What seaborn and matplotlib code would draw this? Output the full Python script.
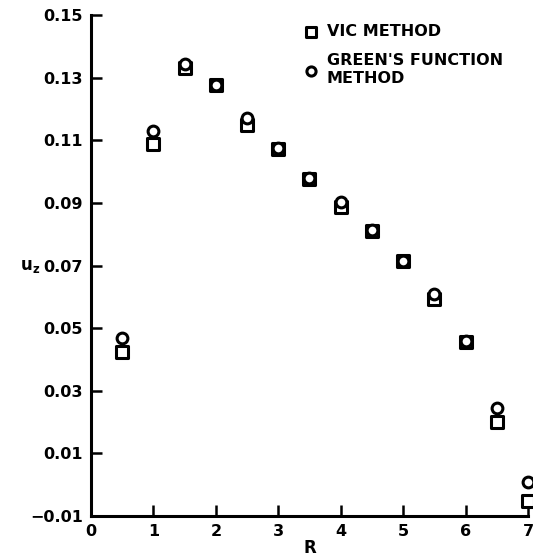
import matplotlib
matplotlib.use("Agg")
import matplotlib.pyplot as plt
import seaborn as sns
import pandas as pd

R = [0.5, 1.0, 1.5, 2.0, 2.5, 3.0, 3.5, 4.0, 4.5, 5.0, 5.5, 6.0, 6.5, 7.0]
vic = [0.0424, 0.1088, 0.1330, 0.1275, 0.1150, 0.1073, 0.0976, 0.0887, 0.0810, 0.0714, 0.0593, 0.0456, 0.0200, -0.0052]
green = [0.0469, 0.1129, 0.1345, 0.1277, 0.1170, 0.1076, 0.0978, 0.0903, 0.0812, 0.0716, 0.0609, 0.0458, 0.0245, 0.0009]
xticks = [0, 1, 2, 3, 4, 5, 6, 7]
yticks = [-0.01, 0.01, 0.03, 0.05, 0.07, 0.09, 0.11, 0.13, 0.15]
ytick_labels = ["\u22120.01", "0.01", "0.03", "0.05", "0.07", "0.09", "0.11", "0.13", "0.15"]

sns.set_theme(style="ticks")
plt.rcParams['font.family'] = ['DejaVu Sans']
plt.rcParams['text.color'] = 'black'
plt.rcParams['axes.labelcolor'] = 'black'
plt.rcParams['xtick.color'] = 'black'
plt.rcParams['ytick.color'] = 'black'

df_vic = pd.DataFrame({"R": R, "uz": vic})
df_green = pd.DataFrame({"R": R, "uz": green})

fig = plt.figure(figsize=(5.33, 5.56), dpi=100)
ax = fig.add_axes([0.1707, 0.0719, 0.8199, 0.9011])

sns.scatterplot(data=df_vic, x="R", y="uz", ax=ax, marker="s", s=70,
                facecolor="white", edgecolor="black", linewidth=2.2,
                label="VIC METHOD", clip_on=False, zorder=3)
sns.scatterplot(data=df_green, x="R", y="uz", ax=ax, marker="o", s=60,
                facecolor="white", edgecolor="black", linewidth=2.2,
                label="GREEN'S FUNCTION\nMETHOD", clip_on=False, zorder=3)

ax.set_xlim(0, 7)
ax.set_ylim(-0.01, 0.15)
ax.set_xticks(xticks)
ax.set_xticklabels([str(t) for t in xticks], fontsize=11.5, fontweight="bold")
ax.set_yticks(yticks)
ax.set_yticklabels(ytick_labels, fontsize=11.5, fontweight="bold")
ax.tick_params(direction="in", length=8, width=1.8, pad=6, colors="black")
for side in ["top", "right"]:
    ax.spines[side].set_visible(False)
for side in ["left", "bottom"]:
    ax.spines[side].set_linewidth(2.2)
    ax.spines[side].set_color("black")

ax.set_xlabel("R", fontsize=12, fontweight="bold", color="black")
ax.xaxis.set_label_coords(0.50, -0.045)
ax.set_ylabel("$\\mathbf{u_z}$", fontsize=12, rotation=0, color="black",
              ha="center", va="center")
ax.yaxis.set_label_coords(-0.14, 0.50)

leg = ax.legend(loc="upper left", bbox_to_anchor=(0.466, 0.995), frameon=False,
                prop={"size": 11.5, "weight": "bold"}, handletextpad=0.4,
                handlelength=1.2, labelspacing=0.9, borderaxespad=0.0,
                markerscale=0.85)
for t in leg.get_texts():
    t.set_color("black")

fig.savefig("out.png", dpi=100)
